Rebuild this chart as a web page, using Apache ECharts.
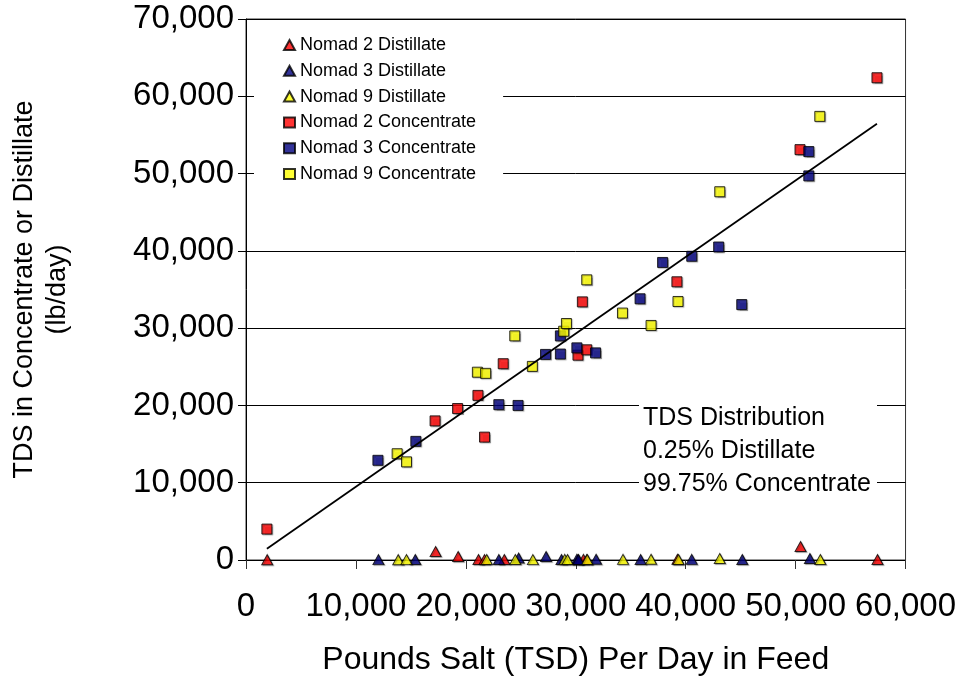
<!DOCTYPE html>
<html>
<head>
<meta charset="utf-8">
<script src="https://cdn.jsdelivr.net/npm/echarts@6/dist/echarts.min.js"></script>
<style>
  html, body { margin: 0; padding: 0; background: #fff; }
  #chart { width: 959px; height: 681px; }
</style>
</head>
<body>
<div id="chart"></div>
<script>
// Feed salt (lb/day) vs. TDS leaving in distillate and concentrate streams
const n2DistX = [1930, 17250, 19300, 21150, 21700, 23500, 30200, 30700, 31000, 39250, 50450, 57450];
const n2DistY = [40, 1100, 450, 60, 50, 70, 60, 80, 50, 90, 1750, 60];
const n3DistX = [12050, 15400, 23000, 24800, 27300, 28700, 30100, 30250, 31850, 35900, 40550, 45150, 51300];
const n3DistY = [50, 60, 70, 250, 450, 60, 80, 70, 90, 60, 80, 70, 200];
const n9DistX = [13850, 14600, 21900, 24500, 26100, 29000, 29250, 31050, 34300, 36850, 39350, 43100, 52250];
const n9DistY = [40, 50, 60, 70, 50, 80, 60, 70, 80, 90, 60, 200, 70];

const n2ConcX = [1900, 17200, 19250, 21100, 21700, 23400, 30200, 30600, 31000, 39200, 50400, 57400];
const n2ConcY = [4000, 18000, 19600, 21300, 15900, 25400, 26500, 33400, 27200, 36000, 53100, 62400];
const n3ConcX = [12000, 15450, 23000, 24750, 27250, 28600, 28600, 30100, 31800, 35850, 37900, 40550, 43000, 45100, 51200, 51200];
const n3ConcY = [12900, 15350, 20100, 20000, 26600, 26650, 29000, 27450, 26800, 33800, 38500, 39300, 40500, 33050, 52850, 49700];
const n9ConcX = [13750, 14600, 21050, 21800, 24450, 26050, 28900, 29150, 31000, 34250, 36850, 39300, 43100, 52200];
const n9ConcY = [13750, 12700, 24300, 24150, 29000, 25050, 29600, 30600, 36250, 31950, 30350, 33450, 47650, 57400];

// Linear trend through the concentrate data (end points)
const trendX = [1900, 57400];
const trendY = [1460, 56460];

const xTicks = { min: 0, max: 60000, step: 10000 };
const yTicks = { min: 0, max: 70000, step: 10000 };

const seriesNames = [
  'Nomad 2 Distillate', 'Nomad 3 Distillate', 'Nomad 9 Distillate',
  'Nomad 2 Concentrate', 'Nomad 3 Concentrate', 'Nomad 9 Concentrate'
];
const noteLines = ['TDS Distribution', '0.25% Distillate', '99.75% Concentrate'];

const RED = '#FF0000', NAVY = '#000080', YELLOW = '#FFFF00';
const FONT = '"Liberation Sans", Arial, sans-serif';

function pairs(xs, ys) { return xs.map((x, i) => [x, ys[i]]); }
function fmt(v) { return v.toLocaleString('en-US'); }

function markerSeries(name, xs, ys, color, symbol, size) {
  return {
    name, type: 'scatter', data: pairs(xs, ys),
    symbol, symbolSize: size,
    itemStyle: {
      color, borderColor: '#000', borderWidth: 1,
      shadowColor: 'rgba(0,0,0,0.35)', shadowOffsetX: 1, shadowOffsetY: 1, shadowBlur: 1
    },
    emphasis: { disabled: true },
    z: 3
  };
}

const chart = echarts.init(document.getElementById('chart'), null, { renderer: 'canvas' });
chart.setOption({
  animation: false,
  backgroundColor: '#fff',
  textStyle: { fontFamily: FONT },
  grid: {
    left: 245, right: 50, top: 19, bottom: 119,
    show: true, borderColor: '#333', borderWidth: 1, backgroundColor: 'transparent'
  },
  xAxis: {
    type: 'value', min: xTicks.min, max: xTicks.max, interval: xTicks.step,
    name: 'Pounds Salt (TSD) Per Day in Feed',
    nameLocation: 'middle', nameGap: 84,
    nameTextStyle: { fontSize: 32, color: '#000', fontFamily: FONT },
    axisLine: { show: true, onZero: false, lineStyle: { color: '#000', width: 1 } },
    axisTick: { show: true, inside: false, length: 9, lineStyle: { color: '#333' } },
    axisLabel: { fontSize: 33, color: '#000', margin: 30, formatter: fmt, fontFamily: FONT },
    splitLine: { show: false }
  },
  yAxis: {
    type: 'value', min: yTicks.min, max: yTicks.max, interval: yTicks.step,
    name: 'TDS in Concentrate or Distillate\n(lb/day)',
    nameLocation: 'middle', nameGap: 172, nameRotate: 90,
    nameTextStyle: { fontSize: 27, color: '#000', lineHeight: 33, fontFamily: FONT },
    axisLine: { show: true, lineStyle: { color: '#000', width: 1 } },
    axisTick: { show: true, inside: false, length: 8, lineStyle: { color: '#000' } },
    axisLabel: { fontSize: 33, color: '#000', margin: 12, formatter: fmt, fontFamily: FONT },
    splitLine: { show: true, lineStyle: { color: '#000', width: 1 } }
  },
  legend: {
    orient: 'vertical', left: 254, top: 26,
    padding: [10, 27, 10, 29],
    backgroundColor: '#fff',
    itemWidth: 11, itemHeight: 10, itemGap: 7.8,
    textStyle: { fontSize: 18, color: '#000', lineHeight: 16, fontFamily: FONT },
    data: [
      { name: seriesNames[0], icon: 'triangle' },
      { name: seriesNames[1], icon: 'triangle' },
      { name: seriesNames[2], icon: 'triangle' },
      { name: seriesNames[3], icon: 'rect' },
      { name: seriesNames[4], icon: 'rect' },
      { name: seriesNames[5], icon: 'rect' }
    ],
    selectedMode: false
  },
  graphic: [{
    type: 'text', left: 639, top: 400, z: 100,
    style: {
      text: noteLines.join('\n'),
      font: '25px ' + FONT,
      fill: '#000',
      align: 'center',
      lineHeight: 33,
      backgroundColor: '#fff',
      padding: [2, 4, 2, 4],
      width: 230
    }
  }],
  series: [
    markerSeries(seriesNames[0], n2DistX, n2DistY, RED, 'triangle', [11, 10]),
    markerSeries(seriesNames[1], n3DistX, n3DistY, NAVY, 'triangle', [11, 10]),
    markerSeries(seriesNames[2], n9DistX, n9DistY, YELLOW, 'triangle', [11, 10]),
    markerSeries(seriesNames[3], n2ConcX, n2ConcY, RED, 'rect', 10),
    markerSeries(seriesNames[4], n3ConcX, n3ConcY, NAVY, 'rect', 10),
    markerSeries(seriesNames[5], n9ConcX, n9ConcY, YELLOW, 'rect', 10),
    {
      name: 'Trend', type: 'line', data: pairs(trendX, trendY),
      symbol: 'none', lineStyle: { color: '#000', width: 1.8 },
      emphasis: { disabled: true }, z: 4, silent: true
    }
  ]
});
</script>
</body>
</html>
